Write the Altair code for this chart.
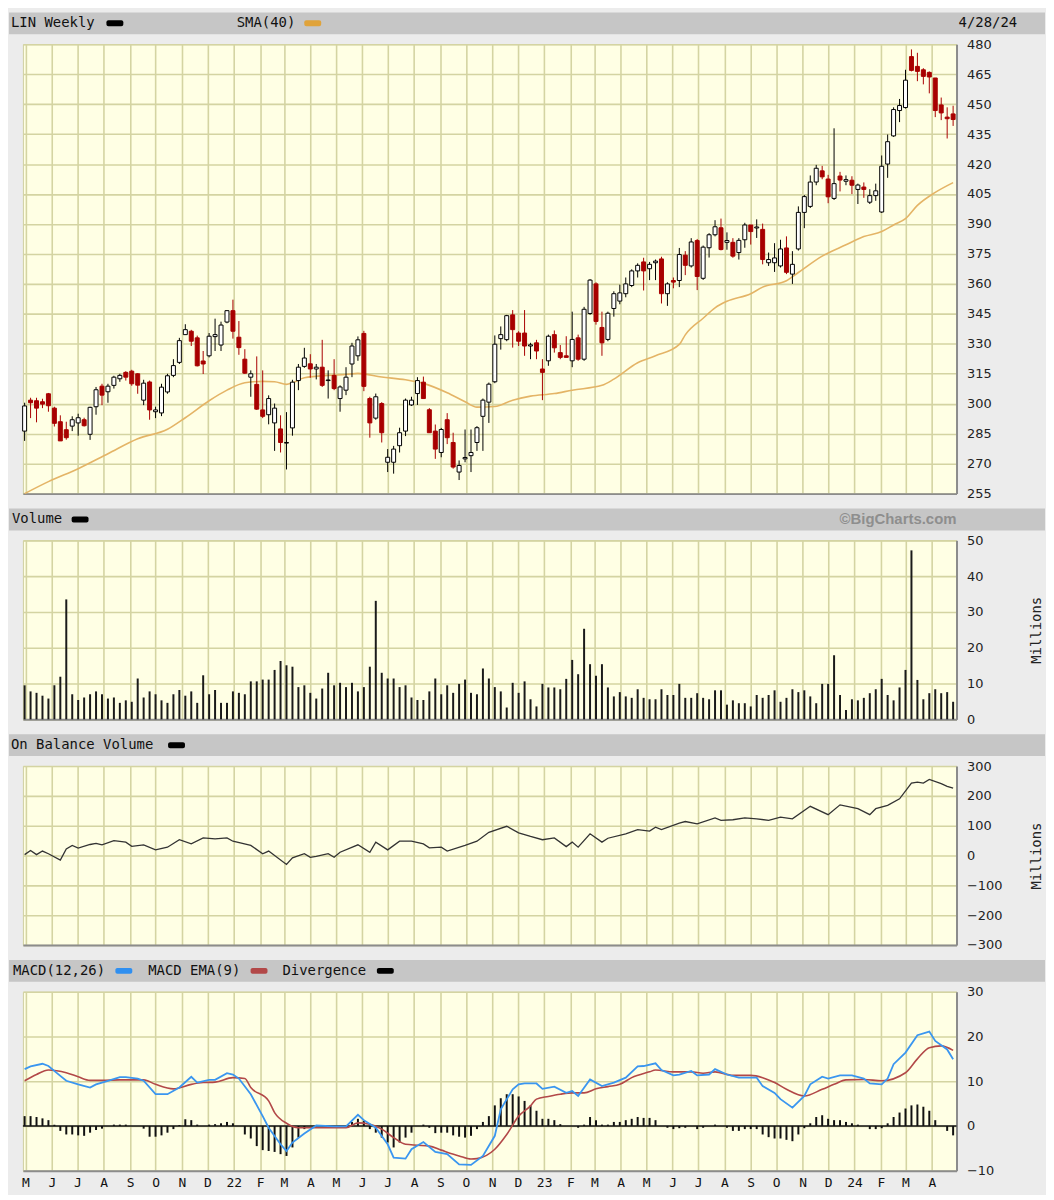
import altair as alt
import pandas as pd

FIRST_WEEK = "2021-04-30"

opens = [286.3, 301.8, 301.5, 301, 305, 297.8, 291, 287, 288.8, 290.4, 292, 284.7, 298.5, 308.8, 306, 309.2, 312.5, 315.7, 316.3, 315,
         301.8, 310.9, 296, 295.4, 305.9, 314.2, 320.7, 334.6, 336.3, 333, 321.4, 324, 333.6, 329.4, 340.9, 346.6, 333.3, 322.3, 313.3, 309.7,
         296.9, 294.5, 290.4, 287.4, 280.3, 287.9, 311.6, 318.7, 320, 317.4, 318.3, 311.6, 314.2, 302.6, 306.8, 319.9, 324, 335.2, 302.6, 292.8,
         300.1, 270.7, 270.7, 279, 286.3, 299.4, 305.1, 310.8, 297, 286.3, 275.6, 292, 280.6, 265.8, 272.4, 274, 280.6, 293.7, 300.8, 311,
         332.6, 332.1, 344.5, 335.4, 335.4, 328.9, 330.5, 317.4, 321.5, 334.6, 325.6, 324, 321.5, 333, 322.3, 345.2, 360, 338.2, 332.2, 347.7,
         351.4, 355.1, 359.2, 366.5, 371, 367.6, 370.6, 372.5, 355.1, 361.7, 361.7, 374.4, 369, 381.7, 362.8, 378.1, 384.6, 388.1, 380.8, 380.8,
         375.7, 382.1, 389.5, 388, 387.3, 370.6, 370.6, 369, 378, 364.9, 377.5, 395.8, 398.8, 411, 416.6, 412.5, 402.8, 414, 411.4, 411.9,
         407.3, 408.5, 400.9, 404.2, 396, 420, 434.1, 446.8, 448.3, 473.8, 468.9, 467.2, 465.9, 463.1, 449.6, 443.5, 445.1]
highs = [300.5, 303, 303, 302.5, 305.4, 298.5, 294.2, 291, 293.7, 295, 293, 298.5, 308.4, 310, 310, 314, 315, 316.3, 317, 315.3,
         312, 311.6, 298.5, 310, 315, 322.3, 333, 339.8, 337, 334.1, 326.4, 335.4, 342.6, 341.1, 346.9, 352.1, 341.4, 327.3, 316.7, 323.7,
         316.7, 304.2, 300.1, 294.2, 295.8, 312, 319.9, 328, 324.8, 319.9, 332, 316.7, 322.3, 309.2, 318.3, 330.5, 333.7, 336.5, 303.5, 305.1,
         300.8, 277.3, 278.9, 288, 302.6, 303.5, 313.3, 313.6, 297.8, 289.6, 287.9, 295.3, 285.5, 271.6, 287.1, 287.1, 288.8, 302.6, 310.6, 334.2,
         338.7, 344.5, 346.9, 336.3, 346.9, 330.5, 332, 322.3, 334.6, 336.7, 329.4, 333.8, 346.1, 334.6, 348.5, 362.4, 360.8, 346.1, 346.1, 356.3,
         359.6, 363.2, 367.3, 370.3, 373.1, 371, 372.2, 373.6, 360.8, 363.2, 378, 376.4, 382.9, 382.5, 379.2, 385.4, 391.9, 392.7, 385.8, 382.9,
         382.9, 390.6, 389.5, 392.3, 390.2, 375.7, 380.4, 382.1, 383.8, 376.4, 398.8, 404.5, 414.3, 419.6, 419.1, 414.6, 437.9, 416.1, 414.3, 413.9,
         410.2, 410.8, 407.4, 410.2, 424.3, 434.8, 448.4, 452.6, 467.2, 477.4, 475.7, 468, 466.4, 463.1, 453.3, 448.4, 449.2]
lows = [281.4, 292.8, 290.7, 297.8, 296, 288.6, 281.4, 282, 286.3, 284, 288.6, 281.9, 294.5, 299.3, 300.5, 307.6, 311, 311.6, 309, 305,
        299.3, 292, 292.8, 293.8, 305, 313.3, 319.9, 334.6, 328.9, 318.7, 314.9, 323.2, 326.4, 326.4, 340.3, 332.6, 324.5, 315, 303.5, 296.9,
        292.8, 289.7, 276.4, 275.6, 267.1, 284, 306.8, 318, 313, 312.2, 308.4, 302.6, 306.8, 296, 304.3, 313.3, 321.5, 306.3, 283, 292,
        280.6, 265.8, 265, 275.6, 283.8, 298.9, 299.4, 302.6, 285.5, 272.4, 273.2, 279.8, 267.5, 261.8, 270.7, 265.8, 276.4, 276.4, 290.4, 310.3,
        327.1, 331.3, 328.1, 328.9, 324, 322.3, 322.3, 301.8, 319, 325.6, 322.3, 323.2, 318.3, 321.5, 321.5, 344.5, 339.6, 324, 331.3, 343.6,
        349.8, 353.3, 358.4, 363.2, 356.7, 361.9, 361.9, 350.2, 349, 357.8, 358.4, 364.4, 368.2, 356.9, 362, 373.2, 383.8, 376.8, 377.1, 373.1,
        372.2, 378.1, 379.7, 383, 369.8, 369, 366, 368.2, 364.9, 360, 376.7, 387.9, 398, 409.4, 412.4, 400.4, 402, 406.3, 409.4, 405,
        400, 403.1, 400, 401.6, 395.5, 413.1, 433.6, 441, 447.8, 466.4, 461.5, 459.9, 455.4, 443.5, 442, 432.8, 439.1]
closes = [298.9, 300.5, 297.8, 299.8, 299, 290.2, 281.4, 283, 292, 293, 289, 298.2, 307, 304.3, 308.8, 313.3, 314.2, 313.3, 310, 309.3,
          310.3, 296.9, 296.9, 308.3, 314, 319.1, 331.6, 337.1, 331.3, 319, 319.9, 333.8, 334.6, 339.4, 346.6, 336.3, 328.1, 315.3, 315, 297.3,
          293.7, 302.6, 297.8, 280.6, 280.6, 310.8, 318.3, 322.9, 317.4, 318.3, 309.2, 311.9, 307.6, 308.4, 313.3, 328.9, 332, 308.7, 290.4, 303.5,
          285.5, 273.2, 277.3, 285.5, 301.8, 301.8, 311.6, 302.6, 285.5, 277.3, 287.1, 283, 268.3, 269.1, 273.1, 275.6, 288, 301.8, 309.8, 329.8,
          334.6, 344.1, 337.1, 331.3, 328.9, 329.5, 326.4, 315.7, 333.8, 328, 323.2, 323.2, 332.2, 322.3, 347.3, 361.9, 341.2, 330.5, 345.3, 355.1,
          355.5, 360, 366.5, 369.3, 366.5, 369.8, 371.4, 355.1, 360, 360.9, 374.7, 369.3, 381, 363.7, 378.4, 384.6, 388.6, 377.2, 381.7, 373.9,
          381.8, 389.5, 386.2, 388.5, 372.2, 372.2, 373, 377.5, 365.8, 369.8, 395.8, 403.7, 411, 417.9, 413.6, 403.6, 410.2, 412, 412.2, 409.4,
          409.5, 407.3, 404.2, 406.6, 418.9, 431.2, 447.3, 449.3, 462, 466.9, 466.4, 463.9, 463.6, 446.8, 445.6, 442.7, 442.3]

# weekly volume, millions
volumes = [9.5, 7.8, 7.4, 6.6, 5.8, 9.5, 11.9, 33.5, 7.0, 5.4, 6.1, 7.0, 7.8, 7.0, 5.8, 6.1, 4.6, 5.3, 4.9, 11.4,
           6.1, 7.8, 7.0, 5.3, 4.6, 7.0, 8.2, 6.6, 7.8, 4.6, 12.3, 7.0, 8.2, 4.6, 4.6, 7.8, 7.4, 7.0, 10.6, 10.6,
           11.1, 11.1, 13.8, 16.3, 15.1, 14.7, 9.0, 9.5, 7.4, 5.8, 8.6, 13.0, 9.5, 10.2, 9.0, 10.2, 7.8, 9.0, 14.7, 33.1,
           13.0, 11.4, 11.4, 9.0, 9.5, 6.1, 5.4, 5.4, 7.8, 11.4, 7.0, 9.5, 7.4, 9.9, 11.1, 7.4, 7.0, 14.2, 11.4, 9.0,
           7.8, 3.3, 10.2, 7.4, 10.6, 5.6, 3.6, 9.9, 8.9, 8.9, 8.4, 11.3, 16.6, 12.6, 25.3, 15.4, 12.2, 15.4, 8.9, 6.4,
           7.6, 6.4, 6.0, 8.4, 6.0, 5.6, 5.6, 8.4, 6.8, 6.8, 9.9, 6.0, 6.0, 7.3, 6.0, 5.6, 8.1, 8.1, 4.1, 5.3,
           4.5, 4.5, 3.6, 6.8, 6.0, 6.8, 8.1, 4.9, 6.0, 8.4, 7.6, 8.1, 6.4, 4.5, 9.9, 9.9, 17.9, 6.8, 2.6, 5.6,
           5.3, 6.0, 7.3, 8.4, 11.3, 6.8, 5.3, 8.9, 13.8, 47.2, 11.0, 5.6, 7.3, 8.4, 7.3, 7.6, 4.9]

# SMA(40) readings: week index -> value
sma_week = [0, 4, 9, 14, 19, 24, 27, 31, 34, 37, 40, 42, 44, 45, 47, 51, 54, 56, 60, 64, 67, 71, 74, 76, 79, 82, 85, 89,
            92, 97, 99, 103, 106, 110, 111, 114, 116, 118, 122, 124, 128, 130, 134, 138, 141, 144, 146, 148, 150, 153, 156]
sma_val = [255, 261, 267.5, 275, 282.5, 287.2, 293, 301.5, 306.8, 310.5, 311.2, 311, 309.7, 310.5, 313, 314.2, 314.6, 315.2,
           313.4, 312, 310.2, 305.5, 301, 298.3, 298.6, 301.8, 303.8, 305.1, 306.8, 309.2, 312.3, 320.5, 324, 329.7, 334.5,
           342.8, 348, 351.3, 355.1, 358.4, 361.6, 365.7, 373.9, 379.6, 383.7, 386.2, 389.5, 392.7, 399.3, 405.8, 410.7]

# On balance volume readings (millions)
obv_week = [0, 1, 2, 3, 4, 6, 7, 8, 9, 11, 12, 13, 15, 17, 18, 20, 22, 24, 26, 28, 30, 32, 34, 35, 38, 40, 41, 44, 45, 47,
            48, 49, 51, 52, 53, 56, 58, 59, 61, 63, 65, 67, 68, 70, 71, 74, 76, 78, 81, 83, 85, 87, 89, 91, 92, 93, 95, 97,
            98, 101, 103, 105, 106, 107, 110, 111, 113, 116, 117, 119, 121, 123, 125, 127, 129, 132, 135, 137, 140, 142, 143,
            145, 147, 149, 150, 151, 152, 154, 155, 156]
obv_val = [3, 17, 3, 15, 6, -15, 22, 34, 25, 37, 41, 36, 50, 45, 31, 36, 19, 28, 53, 39, 59, 56, 59, 48, 34, 6, 15, -30, -8, 6,
           -6, -3, 6, -6, 11, 36, 11, 45, 19, 48, 48, 39, 26, 28, 15, 34, 48, 78, 98, 76, 64, 53, 59, 30, 45, 28, 73, 45,
           58, 73, 87, 82, 95, 87, 109, 114, 106, 126, 118, 120, 126, 123, 118, 129, 123, 165, 137, 170, 157, 137, 157,
           168, 190, 243, 246, 243, 255, 241, 232, 226]

# MACD(12,26)
macd_week = [0, 1, 3, 4, 6, 7, 9, 11, 12, 14, 16, 17, 19, 20, 22, 24, 26, 28, 29, 31, 32, 34, 35, 36, 38, 40, 41, 43, 44, 45,
             47, 49, 52, 54, 56, 57, 59, 61, 62, 64, 65, 67, 69, 71, 73, 75, 77, 79, 80, 82, 83, 84, 86, 87, 89, 91, 92, 93,
             95, 97, 99, 101, 103, 104, 106, 107, 109, 110, 112, 113, 115, 116, 118, 120, 122, 123, 124, 126, 127, 129, 131,
             132, 134, 135, 137, 139, 141, 142, 144, 145, 146, 148, 150, 152, 153, 155, 156]
macd_val = [12.7, 13.3, 13.9, 13.4, 11.2, 10.1, 9.3, 8.6, 9.3, 10.1, 10.9, 10.9, 10.6, 10.1, 7.1, 7.1, 8.6, 11.0, 9.7, 10.3,
            10.3, 11.8, 11.5, 10.6, 7.1, 2.2, -0.4, -4.1, -5.6, -3.7, -1.7, 0.1, -0.1, -0.1, 2.5, 1.3, -0.4, -4.1, -7.1, -7.3,
            -5.2, -3.6, -5.8, -6.3, -8.6, -8.7, -6.7, -2.2, 3.7, 8.2, 9.3, 9.5, 9.5, 8.3, 8.8, 7.4, 7.8, 6.7, 10.4, 8.9, 9.7,
            10.8, 13.3, 13.4, 14.0, 12.5, 11.3, 11.5, 12.3, 11.3, 11.5, 12.7, 11.5, 10.8, 10.8, 10.8, 8.9, 7.4, 6.0, 4.1, 6.7,
            9.3, 11.0, 10.6, 11.3, 11.3, 10.6, 9.5, 9.3, 10.6, 13.8, 16.4, 20.3, 21.1, 19.0, 17.1, 14.9]

# MACD EMA(9)
ema_week = [0, 2, 4, 7, 9, 11, 13, 16, 18, 20, 22, 25, 28, 30, 32, 35, 37, 38, 41, 42, 44, 46, 49, 52, 54, 56, 58, 60, 62,
            64, 66, 68, 70, 73, 75, 76, 79, 81, 83, 85, 86, 88, 90, 92, 94, 96, 98, 100, 102, 105, 106, 109, 112, 114, 116,
            119, 122, 124, 126, 128, 131, 134, 136, 138, 141, 144, 148, 150, 152, 154, 156]
ema_val = [10.1, 11.5, 12.5, 11.9, 11.0, 10.2, 10.2, 10.3, 10.3, 10.3, 9.3, 8.3, 9.3, 9.7, 9.8, 10.8, 10.6, 8.6, 5.6, 3.0,
           0.6, -0.4, -0.4, -0.4, -0.4, 0.7, 0.4, -0.7, -2.6, -4.1, -4.3, -4.5, -5.4, -6.7, -7.4, -7.3, -5.2, -1.9, 2.2,
           4.5, 6.0, 6.6, 7.1, 7.4, 7.4, 8.3, 8.8, 9.3, 10.8, 12.1, 12.5, 12.1, 12.1, 11.8, 12.1, 11.3, 11.3, 10.8, 9.7,
           8.2, 6.7, 8.2, 9.3, 10.3, 10.4, 10.1, 11.9, 15.0, 17.5, 17.9, 16.9]

# Divergence histogram
div_week = [0, 1, 2, 3, 4, 5, 6, 7, 8, 9, 10, 11, 12, 13, 15, 16, 17, 20, 21, 22, 23, 24, 25, 26, 27, 28, 29, 31, 32, 33,
            34, 35, 37, 38, 39, 40, 41, 42, 43, 44, 45, 46, 47, 55, 56, 57, 58, 59, 60, 61, 62, 63, 64, 65, 67, 68, 69, 70,
            71, 72, 73, 74, 75, 76, 77, 78, 79, 80, 81, 82, 83, 84, 85, 86, 87, 88, 89, 90, 93, 94, 95, 96, 97, 98, 99,
            100, 101, 102, 103, 104, 105, 106, 108, 109, 110, 111, 113, 114, 116, 118, 119, 120, 121, 122, 123, 124, 125,
            126, 127, 128, 129, 130, 131, 132, 133, 134, 135, 136, 137, 138, 139, 140, 142, 143, 144, 145, 146, 147, 148,
            149, 150, 151, 152, 153, 155, 156]
div_val = [2.2, 2.2, 2.0, 1.7, 1.3, 0.3, -1.1, -1.9, -1.9, -2.1, -2.2, -1.5, -0.9, -0.6, 0.3, 0.3, 0.3, -0.6, -2.4, -2.4,
           -2.1, -1.5, -0.7, 0.2, 1.5, 1.3, 0.3, 0.3, 0.4, 0.6, 0.9, 0.6, -1.9, -2.8, -4.5, -5.4, -5.6, -5.8, -6.3, -6.7,
           -4.8, -2.6, -0.7, 0.9, 1.6, 1.1, -0.7, -1.5, -2.6, -3.7, -4.8, -3.7, -2.6, -1.5, 0.3, -0.4, -1.6, -1.5, -1.5,
           -2.1, -2.4, -2.6, -2.2, -0.7, 0.9, 2.2, 4.6, 6.2, 7.1, 7.1, 6.6, 5.6, 4.6, 3.4, 1.6, 1.6, 1.3, 0.4, -0.4, 0.3,
           2.0, 1.3, 0.3, 0.3, 0.9, 0.9, 1.3, 1.6, 2.0, 1.8, 1.8, 1.3, -0.4, -0.7, -0.5, -0.4, -0.7, -0.4, 0.3, -0.4, -1.1,
           -1.1, -0.7, -0.7, -0.7, -1.9, -2.5, -2.8, -2.8, -3.1, -3.4, -1.9, -0.5, 0.6, 2.0, 2.4, 1.6, 1.3, 1.3, 0.9, 0.6,
           0.3, -0.7, -0.7, -0.5, 0.6, 2.0, 3.0, 3.9, 4.6, 4.8, 4.3, 3.4, 1.3, -1.1, -2.1]

price_ticks = [255, 270, 285, 300, 315, 330, 345, 360, 375, 390, 405, 420, 435, 450, 465, 480]
volume_ticks = [0, 10, 20, 30, 40, 50]
obv_ticks = [-300, -200, -100, 0, 100, 200, 300]
macd_ticks = [-10, 0, 10, 20, 30]

# ---------------------------------------------------------------- tables
weeks = pd.date_range(FIRST_WEEK, periods=len(closes), freq="7D")


def wk(i):
    return weeks[i].strftime("%Y-%m-%dT00:00:00")


price_df = pd.DataFrame({
    "date": [wk(i) for i in range(len(closes))],
    "open": opens, "high": highs, "low": lows, "close": closes,
    "dir": ["down" if c < o else "up" for o, c in zip(opens, closes)],
    "volume": volumes,
})
sma_df = pd.DataFrame({"date": [wk(i) for i in sma_week], "v": sma_val})
obv_df = pd.DataFrame({"date": [wk(i) for i in obv_week], "v": obv_val})
macd_df = pd.DataFrame({"date": [wk(i) for i in macd_week], "v": macd_val})
ema_df = pd.DataFrame({"date": [wk(i) for i in ema_week], "v": ema_val})
div_df = pd.DataFrame({"date": [wk(i) for i in div_week], "v": div_val})
one = pd.DataFrame({"k": [0]})

W = 939
MONO = "DejaVu Sans Mono"
BG = "#ffffe4"
GRID = "#d4d4a2"
EDGE = "#8c8c8c"

xscale = alt.Scale(domain=[alt.DateTime(year=2021, month=4, date=28),
                           alt.DateTime(year=2024, month=4, date=30)], nice=False, padding=0)


def xaxis(show):
    kw = dict(orient="bottom", title=None, grid=True, gridColor=GRID, gridWidth=1.6,
              ticks=False, domain=True, domainColor=EDGE, domainWidth=2,
              tickCount={"interval": "month", "step": 1}, labels=show)
    if show:
        kw.update(labelExpr="month(datum.value) == 0 ? timeFormat(datum.value, '%y') : "
                            "substring(timeFormat(datum.value, '%b'), 0, 1)",
                  labelFont=MONO, labelFontSize=13, labelColor="#111", labelPadding=6,
                  labelFlush=False, labelOverlap=False)
    return alt.Axis(**kw)


def yaxis(values, title=None, h=180):
    kw = dict(orient="right", values=values, grid=True, gridColor=GRID, gridWidth=1.6,
              ticks=False, domain=True, domainColor=EDGE, domainWidth=2,
              labelFont="DejaVu Sans", labelFontSize=13, labelColor="#222", labelAlign="left",
              labelPadding=10, labelFlush=False, labelOverlap=False)
    if title:
        kw.update(title=title, titleX=80, titleY=h / 2, titleAngle=270, titleAlign="center",
                  titleBaseline="middle", titleFont=MONO, titleFontSize=14,
                  titleFontWeight="normal", titleColor="#222")
    else:
        kw.update(title=None)
    return alt.Axis(**kw)


def header(items):
    layers = [alt.Chart(one).mark_rect(color="#c6c6c6").encode(
        x=alt.value(-14), x2=alt.value(1028), y=alt.value(-32), y2=alt.value(-10))]
    for kind, x, arg in items:
        if kind == "text":
            layers.append(alt.Chart(one).mark_text(
                align="left", baseline="middle", font=MONO, fontSize=14, color="#111", text=arg
            ).encode(x=alt.value(x), y=alt.value(-21)))
        elif kind == "rtext":
            layers.append(alt.Chart(one).mark_text(
                align="right", baseline="middle", font=MONO, fontSize=14, color="#111", text=arg
            ).encode(x=alt.value(x), y=alt.value(-21)))
        elif kind == "brand":
            layers.append(alt.Chart(one).mark_text(
                align="right", baseline="middle", font="Liberation Sans", fontSize=15,
                fontWeight="bold", color="#8e8e8e", text=arg
            ).encode(x=alt.value(x), y=alt.value(-21)))
        else:  # swatch
            layers.append(alt.Chart(one).mark_rect(color=arg, cornerRadius=2).encode(
                x=alt.value(x), x2=alt.value(x + 17), y=alt.value(-24), y2=alt.value(-18)))
    return layers


# ---------------------------------------------------------------- price panel
PH = 452
py = alt.Scale(domain=[255, 480], nice=False, zero=False, padding=0)
pax = yaxis(price_ticks)
X = alt.X("date:T", scale=xscale, axis=xaxis(False))
base = alt.Chart(price_df)
wick = base.mark_rule(strokeWidth=1).encode(
    x=X,
    y=alt.Y("low:Q", scale=py, axis=pax),
    y2="high:Q",
    color=alt.Color("dir:N", scale=alt.Scale(domain=["up", "down"], range=["#000000", "#a80000"]), legend=None),
)
body = base.mark_bar(size=4, strokeWidth=1).encode(
    x=X,
    y=alt.Y("open:Q", scale=py, axis=pax),
    y2="close:Q",
    fill=alt.Fill("dir:N", scale=alt.Scale(domain=["up", "down"], range=["#ffffff", "#a80000"]), legend=None),
    stroke=alt.Stroke("dir:N", scale=alt.Scale(domain=["up", "down"], range=["#000000", "#a80000"]), legend=None),
)
sma = alt.Chart(sma_df).mark_line(color="#e4b466", strokeWidth=1.6, interpolate="monotone").encode(
    x=X, y=alt.Y("v:Q", scale=py, axis=pax))
price = alt.layer(
    *header([("text", -12, "LIN Weekly"), ("swatch", 84, "#000000"), ("text", 215, "SMA(40)"),
             ("swatch", 283, "#e0a33a"), ("rtext", 1000, "4/28/24")]),
    sma, wick, body,
).properties(width=W, height=PH)

# ---------------------------------------------------------------- volume panel
VH = 180
vol_bars = alt.Chart(price_df).mark_bar(size=2, color="#1a1a1a").encode(
    x=X,
    y=alt.Y("volume:Q", scale=alt.Scale(domain=[0, 50], nice=False, padding=0),
            axis=yaxis(volume_ticks, "Millions", VH)),
)
volume = alt.layer(
    *header([("text", -11, "Volume"), ("swatch", 49, "#000000"), ("brand", 939, "©BigCharts.com")]),
    vol_bars,
).properties(width=W, height=VH)

# ---------------------------------------------------------------- OBV panel
obv_line = alt.Chart(obv_df).mark_line(color="#333333", strokeWidth=1.3).encode(
    x=X,
    y=alt.Y("v:Q", scale=alt.Scale(domain=[-300, 300], nice=False, padding=0),
            axis=yaxis(obv_ticks, "Millions", VH)),
)
obv = alt.layer(
    *header([("text", -12, "On Balance Volume"), ("swatch", 146, "#000000")]),
    obv_line,
).properties(width=W, height=VH)

# ---------------------------------------------------------------- MACD panel
my = alt.Scale(domain=[-10, 30], nice=False, padding=0)
max_ = yaxis(macd_ticks)
XB = alt.X("date:T", scale=xscale, axis=xaxis(True))
div_bars = alt.Chart(div_df).mark_bar(size=2, color="#111111").encode(
    x=XB,
    y=alt.Y("v:Q", scale=my, axis=max_),
    y2=alt.datum(0),
)
zero = alt.Chart(one).mark_rule(color="#111111", strokeWidth=1.5).encode(y=alt.datum(0))
ema_line = alt.Chart(ema_df).mark_line(color="#b24848", strokeWidth=1.6, interpolate="monotone").encode(
    x=XB, y=alt.Y("v:Q", scale=my, axis=max_))
macd_line = alt.Chart(macd_df).mark_line(color="#3a96f0", strokeWidth=1.8).encode(
    x=XB, y=alt.Y("v:Q", scale=my, axis=max_))
macd = alt.layer(
    *header([("text", -10, "MACD(12,26)"), ("swatch", 93, "#2f8ff0"), ("text", 126, "MACD EMA(9)"),
             ("swatch", 229, "#b24848"), ("text", 261, "Divergence"), ("swatch", 356, "#000000")]),
    div_bars, zero, ema_line, macd_line,
).properties(width=W, height=VH)

chart = alt.vconcat(price, volume, obv, macd, spacing=47, bounds="flush").properties(
    padding={"left": 0, "top": 0, "right": 0, "bottom": 1}
).configure(background="#ececec").configure_view(fill=BG, stroke="#cfcfa0", strokeWidth=1)

chart.save("out.html", embed_options={"renderer": "svg", "actions": False})
